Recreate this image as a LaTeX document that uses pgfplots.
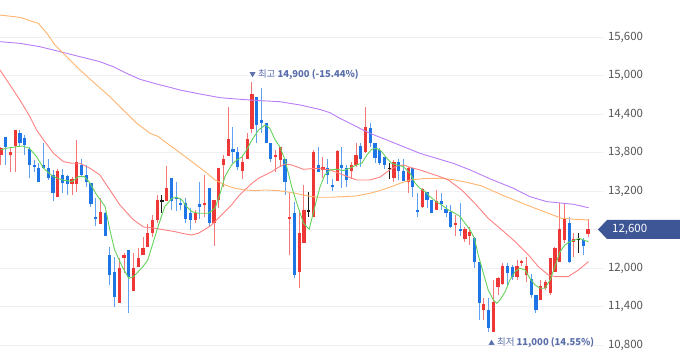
\documentclass[border=0pt]{standalone}
\usepackage{pgfplots}
\pgfplotsset{compat=1.18}
\usepackage{pgfplotstable}
\usepackage{fontspec}
\setmainfont{Noto Sans CJK KR}
\definecolor{upc}{RGB}{238,56,56}
\definecolor{upw}{RGB}{244,120,120}
\definecolor{dnc}{RGB}{30,118,230}
\definecolor{dnw}{RGB}{95,160,240}
\definecolor{dojc}{RGB}{30,30,30}
\definecolor{ma5}{RGB}{100,210,90}
\definecolor{ma20}{RGB}{255,128,128}
\definecolor{ma60}{RGB}{255,180,110}
\definecolor{ma120}{RGB}{185,125,250}
\definecolor{gridc}{RGB}{238,240,246}
\definecolor{tagc}{RGB}{62,86,150}
\definecolor{annc}{RGB}{90,110,170}
\definecolor{tickc}{RGB}{85,85,85}

\pgfplotstableread{
x L H bl bh
0 13606 13891 13762 13865
2 13502 13891 13762 13814
3 13502 14151 13907 14151
12 13102 13538 13102 13518
15 13138 13424 13310 13382
16 13190 13995 13310 13658
21 12687 13087 12687 12879
25 11451 12152 11451 11996
26 11918 12230 12152 12204
28 11648 12230 11648 11996
29 12022 12308 12022 12152
30 12204 12489 12204 12308
31 12334 12687 12334 12541
32 12489 12827 12541 12749
33 12697 13138 12749 13061
35 13050 13590 13050 13242
41 12697 12905 12749 12853
43 12790 13450 12990 13006
45 12349 13061 12697 13061
46 12931 13554 13061 13554
47 13268 13762 13606 13694
48 13746 14504 13746 14006
51 13388 13725 13518 13658
52 13694 14099 13694 14006
53 14099 14900 14161 14712
58 13502 13839 13738 13754
59 13580 13891 13684 13891
61 12204 13164 12759 12801
63 11685 12905 11944 12541
64 12396 13294 12396 12905
66 12801 13839 12801 13814
68 13398 13736 13528 13569
71 13362 13839 13362 13829
74 13382 13658 13518 13606
75 13580 13943 13606 13762
77 13788 14504 13814 14203
83 13346 13684 13398 13658
86 13164 13580 13346 13554
89 12930 13240 12946 13227
92 12905 13220 12905 13050
96 12500 12827 12671 12707
98 12411 12645 12448 12603
99 12359 12645 12500 12567
102 11191 11529 11347 11440
104 11000 11814 11009 11477
105 11580 11866 11710 11840
106 11736 12074 11752 12032
109 11814 12126 11866 12032
110 12032 12126 12092 12108
111 11788 12178 11892 12032
114 11502 11814 11502 11721
115 11658 11814 11684 11788
116 11580 12152 11606 12152
117 11944 12333 11944 12307
118 12100 13008 12100 12603
119 12385 12998 12437 12759
121 12178 12541 12411 12448
124 12489 12759 12531 12603
}\upT

\pgfplotstableread{
x L H bl bh
1 13606 14047 13891 14047
4 13891 14151 13943 14099
5 13762 14073 13917 14021
6 13398 13891 13606 13855
7 13502 13684 13569 13606
8 13346 13632 13346 13554
9 13554 13954 13554 13606
10 13372 13694 13398 13554
11 13050 13528 13164 13450
13 13164 13538 13320 13450
14 13138 13450 13310 13440
17 13424 13699 13450 13606
18 13258 13606 13346 13450
19 12946 13320 12998 13320
20 12655 13087 12759 12801
22 12500 12879 12500 12853
23 11736 12334 11892 12204
24 11399 12178 11555 11944
27 11295 12282 11866 12282
36 12905 13398 13050 13398
37 12894 13346 13071 13102
38 12905 13087 12990 13006
39 12697 13087 12759 13009
40 12593 12931 12749 12863
42 12759 13346 12946 12998
44 12645 13242 12707 13242
49 13632 14203 13814 13855
50 13528 13891 13569 13814
54 13943 14660 14229 14660
55 14099 14800 14255 14307
56 13943 14255 13943 14255
57 13658 13943 13694 13943
60 13138 13694 13346 13694
62 11840 13035 11892 12853
67 13502 13891 13502 13606
69 13310 13694 13450 13554
70 13201 13382 13268 13294
72 13242 13891 13554 13606
73 13268 13606 13372 13554
76 13569 13943 13694 13902
78 13891 14255 13943 14177
79 13632 13943 13710 13943
80 13606 13865 13642 13839
81 13538 13736 13606 13725
84 13372 13694 13518 13658
85 13362 13694 13362 13518
87 13112 13554 13258 13554
88 12801 13164 12879 12905
90 12931 13190 13061 13190
91 12853 13061 12853 13061
93 12905 13164 12998 13050
94 12801 12983 12853 12915
95 12619 12983 12645 12879
97 12500 13008 12585 12601
100 11996 12489 12100 12463
101 11191 12100 11451 12100
103 11009 11529 11061 11347
107 11736 12074 11918 12032
108 11814 12048 11866 12011
112 11529 11908 11580 11825
113 11295 11580 11347 11580
120 12084 12801 12100 12707
123 12204 12463 12344 12437
}\dnT

\pgfplotstableread{
x L H bl bh
34 12853 13138 13037 13053
65 12801 13190 12881 12897
82 13393 13632 13546 13562
122 12230 12541 12440 12456
}\dojT

\pgfplotsset{
  wick/.style={draw=none, no markers, forget plot, error bars/.cd, y dir=both, y explicit, error mark=none, error bar style={draw=#1, line width=1bp}},
  body/.style={draw=none, no markers, forget plot, error bars/.cd, y dir=both, y explicit, error mark=none, error bar style={draw=#1, line width=3.2bp}},
}

\begin{document}
\begin{tikzpicture}
\useasboundingbox (0,0) rectangle (680bp,358bp);
\begin{axis}[
  at={(0,0)}, anchor=south west, scale only axis,
  width=603bp, height=358bp,
  xmin=-0.21, xmax=127.16, ymin=10597.4, ymax=16176.6,
  axis line style={draw=none},
  xtick=\empty,
  ytick={10800,11400,12000,12600,13200,13800,14400,15000,15600},
  yticklabels={{10,800},{11,400},{12,000},{},{13,200},{13,800},{14,400},{15,000},{15,600}},
  ymajorgrids, grid style={gridc, line width=0.7bp},
  major tick length=0pt,
  yticklabel pos=right,
  yticklabel style={anchor=west, xshift=1.5bp, text=tickc, font=\fontsize{11.5}{13}\selectfont},
  clip=false,
]
\addplot[wick=upw] table[x=x, y expr={(\thisrow{L}+\thisrow{H})/2}, y error expr={(\thisrow{H}-\thisrow{L})/2}] {\upT};
\addplot[wick=dnw] table[x=x, y expr={(\thisrow{L}+\thisrow{H})/2}, y error expr={(\thisrow{H}-\thisrow{L})/2}] {\dnT};
\addplot[wick=dojc] table[x=x, y expr={(\thisrow{L}+\thisrow{H})/2}, y error expr={(\thisrow{H}-\thisrow{L})/2}] {\dojT};
\addplot[body=upc] table[x=x, y expr={(\thisrow{bl}+\thisrow{bh})/2}, y error expr={(\thisrow{bh}-\thisrow{bl})/2}] {\upT};
\addplot[body=dnc] table[x=x, y expr={(\thisrow{bl}+\thisrow{bh})/2}, y error expr={(\thisrow{bh}-\thisrow{bl})/2}] {\dnT};
\addplot[body=dojc] table[x=x, y expr={(\thisrow{bl}+\thisrow{bh})/2}, y error expr={(\thisrow{bh}-\thisrow{bl})/2}] {\dojT};

% MA120
\addplot[ma120, line width=0.9bp] coordinates {(-0.2,15527) (4,15501) (8.2,15449) (12.5,15371) (16.7,15293) (20.9,15215) (23.7,15137) (26.5,15034) (29.4,14940) (32.9,14867) (35.7,14815) (37.8,14774) (42,14712) (46.3,14654) (50.5,14629) (54.7,14608) (58.9,14592) (63.2,14540) (67.4,14470) (69.5,14420) (71.6,14332) (74.4,14229) (77.9,14099) (81.5,13995) (85,13891) (88.5,13787) (92,13709) (95.5,13632) (99.1,13528) (103.3,13390) (108.2,13243) (111.7,13112) (115.3,13034) (118.8,13008) (120.9,12993) (123.7,12946) (124.1,12940)};
% MA60
\addplot[ma60, line width=0.9bp] coordinates {(-0.2,15942) (4,15906) (7.9,15812) (9.7,15657) (11.4,15475) (13.9,15293) (16.7,15085) (20.2,14852) (23,14670) (25.8,14462) (28.7,14254) (31.5,14099) (33.2,14050) (34.6,13969) (37.5,13814) (40.3,13658) (43.1,13502) (45.2,13372) (47.3,13294) (49.4,13242) (51.5,13216) (53.6,13206) (55.8,13216) (58.6,13206) (61.4,13175) (63.9,13138) (66.7,13102) (69.5,13102) (72.3,13112) (75.1,13123) (77.9,13164) (80,13206) (82.1,13258) (84.3,13320) (86.4,13372) (89.2,13393) (92.7,13398) (95.2,13380) (98.7,13330) (101.5,13280) (105.8,13138) (109.3,13034) (112.8,12931) (115.6,12853) (118.4,12775) (121.3,12759) (124.1,12749)};
% MA20
\addplot[ma20, line width=0.9bp] coordinates {(-0.2,15085) (1.9,14852) (4,14618) (6.1,14359) (7.5,14151) (9,13995) (11.1,13787) (13.2,13657) (15,13632) (16.7,13632) (18.8,13554) (20.9,13450) (23,13216) (25.1,12983) (28,12749) (30.1,12640) (32.5,12619) (34.6,12593) (36.7,12567) (38.9,12531) (40.3,12515) (41.7,12541) (43.1,12604) (44.5,12671) (45.9,12775) (47.3,12879) (48.7,12983) (50.1,13112) (51.5,13216) (53,13320) (54.4,13398) (55.8,13450) (57.2,13502) (58.6,13569) (60,13621) (61.4,13606) (63.9,13538) (66.7,13554) (69.5,13528) (72.3,13450) (75.1,13372) (77.9,13372) (80,13414) (82.1,13528) (83.6,13590) (85,13606) (86.4,13569) (88.5,13528) (90.6,13476) (92.7,13424) (94.5,13372) (97.3,13216) (100.1,13008) (102.9,12775) (105.8,12593) (108.6,12411) (111.4,12204) (113.5,12022) (115.6,11892) (117,11866) (119.8,11866) (122,11970) (124.1,12100)};
% MA5
\addplot[ma5, line width=0.9bp] coordinates {(0,13840) (1,13865) (4.5,13902) (6,13865) (7.5,13736) (9,13554) (11,13424) (13,13372) (15,13346) (16.3,13424) (17.6,13424) (18.6,13346) (20,13164) (22,12957) (23,12593) (24,12282) (25.6,12022) (27,11840) (28,11866) (30,12022) (31,12126) (33.2,12650) (34.6,12957) (36.1,13087) (37.1,13102) (38.2,13061) (39.2,12957) (40.3,12879) (41.7,12853) (43.8,12853) (45.2,12931) (46.3,13164) (47.3,13424) (48.7,13606) (49.8,13684) (50.8,13725) (51.9,13839) (53,13995) (54.4,14151) (55.8,14229) (56.8,14177) (57.9,13995) (58.9,13891) (60,13684) (61.4,13268) (62.3,13050) (63.9,12697) (65.1,12604) (66.3,12957) (67.4,13268) (68.4,13450) (69.5,13528) (70.9,13538) (72.3,13518) (73.7,13554) (75.1,13606) (76.2,13632) (77.3,13762) (78.3,13850) (79.4,13865) (80.4,13814) (81.5,13710) (82.5,13632) (83.6,13606) (85,13580) (86.4,13476) (87.5,13320) (88.5,13242) (89.6,13190) (90.6,13112) (92,13030) (93.1,12983) (94.5,12905) (95.9,12853) (97,12801) (98,12697) (99.1,12593) (100,12463) (100.8,12204) (101.9,11918) (102.9,11658) (104,11502) (104.7,11451) (105.4,11502) (106.5,11632) (107.5,11814) (108.6,11944) (109.6,11996) (110.7,11970) (111.7,11840) (112.8,11736) (113.9,11684) (114.9,11684) (116,11814) (117,12022) (118.1,12256) (119.1,12359) (120.2,12411) (121.3,12437) (122.1,12463) (123,12437) (124.1,12411)};

\node[anchor=west, inner sep=0pt, text=annc, font=\fontsize{9.5}{11}\selectfont] at (axis cs:52.4,15008) {\scalebox{0.7}{▼} 최고 \textbf{14,900 (-15.44\%)}};
\node[anchor=west, inner sep=0pt, text=annc, font=\fontsize{9.5}{11}\selectfont] at (axis cs:102.9,10832) {\scalebox{0.7}{▲} 최저 \textbf{11,000 (14.55\%)}};
\end{axis}
\fill[tagc] (598bp,128.5bp) -- (607bp,138bp) -- (680bp,138bp) -- (680bp,119bp) -- (607bp,119bp) -- cycle;
\node[anchor=west, inner sep=0pt, text=white, font=\fontsize{11.5}{13}\selectfont] at (612bp,128.5bp) {12,600};
\end{tikzpicture}
\end{document}
